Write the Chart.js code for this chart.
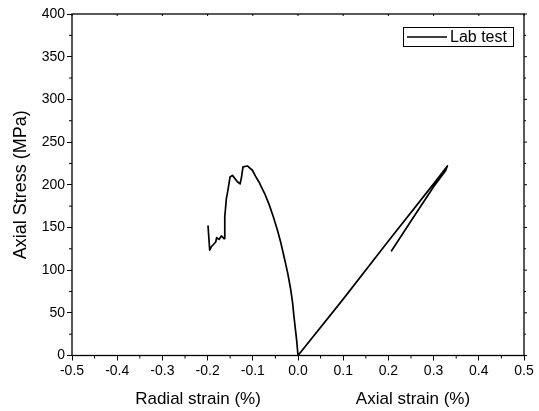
<!DOCTYPE html>
<html>
<head>
<meta charset="utf-8">
<script src="https://cdn.jsdelivr.net/npm/chart.js@4/dist/chart.umd.min.js"></script>
<style>
  html, body { margin: 0; padding: 0; background: #fff; }
  #wrap { width: 539px; height: 411px; }
</style>
</head>
<body>
<div id="wrap"><canvas id="chart" width="539" height="411"></canvas></div>
<script>
// radial branch, from the end of the test back to the origin
const radialStrain = [-0.199, -0.1954, -0.1917, -0.182, -0.180, -0.1748, -0.1695, -0.1637, -0.162, -0.1584,
  -0.1549, -0.1504, -0.145, -0.134, -0.128, -0.125, -0.1217, -0.112, -0.101, -0.094,
  -0.086, -0.0825, -0.074, -0.064, -0.055, -0.0456, -0.038, -0.031, -0.023, -0.016,
  -0.012, -0.0088, -0.003, 0];
const radialStress = [151.6, 123.5, 127.4, 133, 138, 136, 140, 137, 162.5, 184,
  194, 209, 211, 203.5, 201, 209, 221, 222, 217, 210,
  203, 199, 190, 177, 163, 147, 132, 116, 97, 77,
  62, 45, 18, 0];

// axial branch, loading then unloading
const axialStrain = [0, 0.1, 0.2, 0.3, 0.3305, 0.326, 0.3, 0.25, 0.207];
const axialStress = [0, 66, 134, 201, 222, 216, 197.6, 157.6, 122.7];

const xTicks = [-0.5, -0.4, -0.3, -0.2, -0.1, 0.0, 0.1, 0.2, 0.3, 0.4, 0.5];
const yTicks = [0, 50, 100, 150, 200, 250, 300, 350, 400];

const seriesLabel = 'Lab test';
const xTitles = ['Radial strain (%)', 'Axial strain (%)'];
const yTitle = 'Axial Stress (MPa)';

const points = [];
radialStrain.forEach((x, i) => points.push({ x: x, y: radialStress[i] }));
axialStrain.forEach((x, i) => { if (i > 0) points.push({ x: x, y: axialStress[i] }); });

const FONT = '"Liberation Sans", Arial, sans-serif';

// frame, minor ticks, split x titles and legend box
const decorations = {
  id: 'decorations',
  afterDraw(chart) {
    const ctx = chart.ctx;
    const a = chart.chartArea;
    const xs = chart.scales.x;
    const ys = chart.scales.y;
    ctx.save();
    ctx.strokeStyle = '#000';
    ctx.lineWidth = 1.3;
    ctx.strokeRect(a.left, a.top, a.right - a.left, a.bottom - a.top);

    ctx.lineWidth = 1;
    ctx.beginPath();
    // minor ticks
    for (let i = 0; i < xTicks.length - 1; i++) {
      const px = xs.getPixelForValue((xTicks[i] + xTicks[i + 1]) / 2);
      ctx.moveTo(px, a.bottom); ctx.lineTo(px, a.bottom + 3);
    }
    for (let i = 0; i < yTicks.length - 1; i++) {
      const py = ys.getPixelForValue((yTicks[i] + yTicks[i + 1]) / 2);
      ctx.moveTo(a.left, py); ctx.lineTo(a.left - 3, py);
      ctx.moveTo(a.right, py); ctx.lineTo(a.right + 2, py);
    }
    // mirror ticks on top and right
    xTicks.forEach(v => {
      const px = xs.getPixelForValue(v);
      ctx.moveTo(px, a.top); ctx.lineTo(px, a.top + 2);
    });
    yTicks.forEach(v => {
      const py = ys.getPixelForValue(v);
      ctx.moveTo(a.right, py); ctx.lineTo(a.right + 3, py);
    });
    ctx.stroke();

    // x titles, one under each half
    ctx.fillStyle = '#000';
    ctx.font = '17px ' + FONT;
    ctx.textAlign = 'center';
    ctx.textBaseline = 'middle';
    ctx.fillText(xTitles[0], 198, 399);
    ctx.fillText(xTitles[1], 413, 399);

    // legend
    ctx.lineWidth = 1;
    ctx.strokeRect(403.5, 27.5, 110, 19);
    ctx.lineWidth = 1.6;
    ctx.beginPath();
    ctx.moveTo(407, 37); ctx.lineTo(447, 37);
    ctx.stroke();
    ctx.font = '16px ' + FONT;
    ctx.textAlign = 'left';
    ctx.fillText(seriesLabel, 450, 37.5);
    ctx.restore();
  }
};

new Chart(document.getElementById('chart'), {
  type: 'scatter',
  data: {
    datasets: [{
      label: seriesLabel,
      data: points,
      showLine: true,
      borderColor: '#000',
      borderWidth: 1.7,
      borderJoinStyle: 'round',
      borderCapStyle: 'round',
      pointRadius: 0,
      tension: 0,
      fill: false
    }]
  },
  options: {
    responsive: false,
    animation: false,
    layout: { padding: { left: 0, right: 15, top: 14, bottom: 0 } },
    plugins: {
      legend: { display: false },
      tooltip: { enabled: false }
    },
    scales: {
      x: {
        type: 'linear',
        min: -0.5,
        max: 0.5,
        afterBuildTicks: (s) => { s.ticks = xTicks.map(v => ({ value: v })); },
        afterFit: (s) => { s.height = 55.5; },
        border: { display: false },
        grid: { drawOnChartArea: false, tickLength: 5, color: '#000', tickWidth: 1 },
        ticks: {
          color: '#000',
          padding: 2,
          font: { family: FONT, size: 14 },
          callback: (v) => v.toFixed(1)
        }
      },
      y: {
        min: 0,
        max: 400,
        afterBuildTicks: (s) => { s.ticks = yTicks.map(v => ({ value: v })); },
        afterFit: (s) => { s.width = 72; },
        border: { display: false },
        grid: { drawOnChartArea: false, tickLength: 5, color: '#000', tickWidth: 1 },
        title: {
          display: true,
          text: yTitle,
          color: '#000',
          font: { family: FONT, size: 18 },
          padding: { top: 10, bottom: 4 }
        },
        ticks: {
          color: '#000',
          padding: 2,
          font: { family: FONT, size: 14 }
        }
      }
    }
  },
  plugins: [decorations]
});
</script>
</body>
</html>
